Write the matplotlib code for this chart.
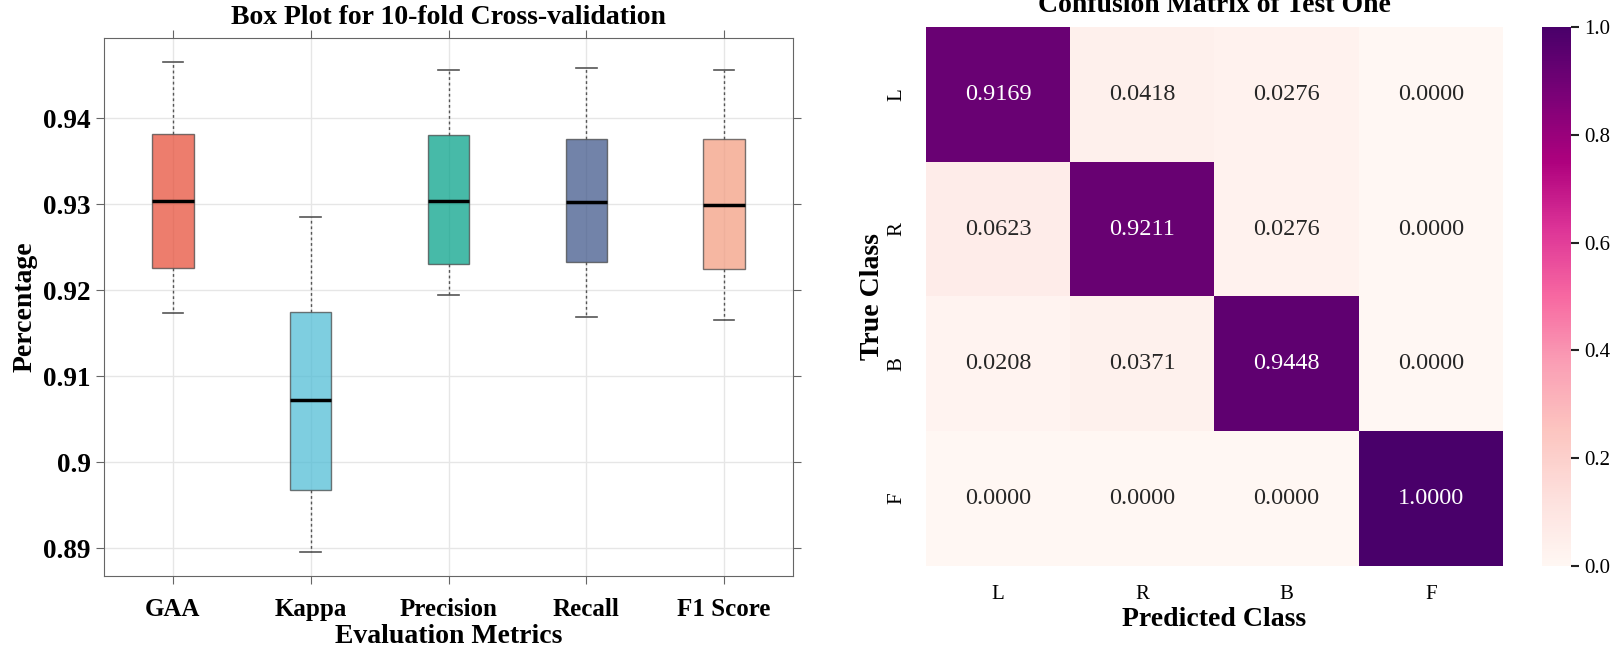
import numpy as np
import matplotlib
matplotlib.use("Agg")
import matplotlib.pyplot as plt
from matplotlib.ticker import FormatStrFormatter
import seaborn as sns

# box plot summary
metrics = ["GAA", "Kappa", "Precision", "Recall", "F1 Score"]
whisker_low = [0.9173, 0.8896, 0.9194, 0.9169, 0.9165]
q1 = [0.9226, 0.8967, 0.9231, 0.9233, 0.9225]
medians = [0.9304, 0.9072, 0.9304, 0.9303, 0.9299]
q3 = [0.9382, 0.9175, 0.9380, 0.9376, 0.9376]
whisker_high = [0.9465, 0.9285, 0.9456, 0.9458, 0.9456]
box_colors = ["#E64B35", "#4DBBD5", "#00A087", "#3C5488", "#F39B7F"]

# confusion matrix of test one
classes = ["L", "R", "B", "F"]
conf_rows = [
    [0.9169, 0.0418, 0.0276, 0.0000],
    [0.0623, 0.9211, 0.0276, 0.0000],
    [0.0208, 0.0371, 0.9448, 0.0000],
    [0.0000, 0.0000, 0.0000, 1.0000],
]

plt.rcParams["font.family"] = ["Liberation Serif", "DejaVu Serif"]

fig = plt.figure(figsize=(16.18, 6.52), dpi=100)
ax = fig.add_axes([0.0643, 0.1166, 0.4258, 0.8252])
ax2 = fig.add_axes([0.5723, 0.1319, 0.3566, 0.8267])
cax = fig.add_axes([0.953, 0.1319, 0.0179, 0.8267])

#-------- left: box plot --------
stats = []
for i in range(len(metrics)):
    stats.append({"label": metrics[i], "med": medians[i], "q1": q1[i], "q3": q3[i],
                  "whislo": whisker_low[i], "whishi": whisker_high[i], "fliers": []})

bp = ax.bxp(stats, positions=range(1, len(metrics) + 1), widths=0.3,
            patch_artist=True, showfliers=False,
            boxprops=dict(edgecolor="#444444", linewidth=1),
            medianprops=dict(color="black", linewidth=2.5),
            whiskerprops=dict(color="#555555", linestyle=(0, (2, 2)), linewidth=1),
            capprops=dict(color="#555555", linewidth=1.2))
for patch, c in zip(bp["boxes"], box_colors):
    patch.set_facecolor(c)
    patch.set_alpha(0.72)
    patch.set_edgecolor("#444444")

ax.grid(True, color="#e6e6e6", linewidth=1)
ax.set_axisbelow(True)
ax.yaxis.set_major_formatter(FormatStrFormatter("%g"))
for sp in ax.spines.values():
    sp.set_color("#666666")
ax.tick_params(direction="out", top=True, right=True, length=6, color="#666666",
               labelsize=18)
ax.tick_params(axis="y", labelsize=19.5)
for lab in ax.get_xticklabels() + ax.get_yticklabels():
    lab.set_fontweight("bold")
ax.tick_params(axis="x", pad=10)
ax.set_title("Box Plot for 10-fold Cross-validation", fontsize=20, fontweight="bold", pad=10)
ax.set_xlabel("Evaluation Metrics", fontsize=20, fontweight="bold", labelpad=2)
ax.set_ylabel("Percentage", fontsize=20, fontweight="bold")

#-------- right: confusion matrix --------
sns.heatmap(np.array(conf_rows), annot=True, fmt=".4f", cmap="RdPu", vmin=0, vmax=1,
            ax=ax2, cbar_ax=cax, xticklabels=classes, yticklabels=classes,
            annot_kws={"fontsize": 17.5})
ax2.tick_params(length=0, labelsize=15, pad=14)
plt.setp(ax2.get_yticklabels(), rotation=90, va="center")
ax2.set_title("Confusion Matrix of Test One", fontsize=20, fontweight="bold", pad=11)
ax2.set_xlabel("Predicted Class", fontsize=20, fontweight="bold", labelpad=2)
ax2.set_ylabel("True Class", fontsize=20, fontweight="bold", labelpad=2)
cax.tick_params(labelsize=15, length=6, width=1.5, color="#222222")

fig.savefig("out.png", dpi=100)
